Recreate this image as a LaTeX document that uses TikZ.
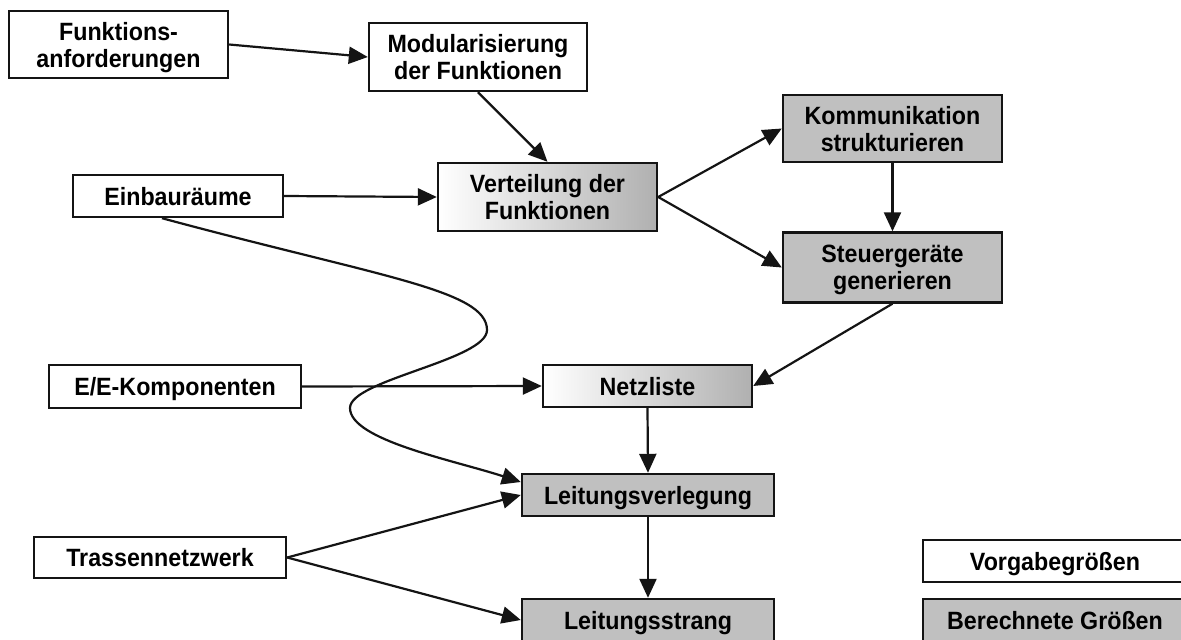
\documentclass[tikz,border=0pt]{standalone}
\usepackage{fontspec}
\setmainfont{Liberation Sans}
\newfontfamily\boxfont[FakeStretch=0.93]{Liberation Sans}
\usetikzlibrary{arrows.meta}
\definecolor{boxgray}{RGB}{192,192,192}
\definecolor{gradgray}{RGB}{176,176,176}
\definecolor{edgecol}{RGB}{20,20,20}
\begin{document}
\begin{tikzpicture}[x=1pt,y=-1pt,
  box/.style={draw=edgecol, line width=2.4pt, fill=white, inner sep=0pt, align=center,
    text depth=0pt, font=\boxfont\fontsize{25}{27}\selectfont\bfseries},
  calcbox/.style={box, fill=boxgray},
  gradbox/.style={box, left color=white, right color=gradgray},
  arr/.style={draw=edgecol, line width=2.2pt, -{Triangle[length=19pt,width=17pt]}}
  ]
\fill[white] (0,0) rectangle (1181,640);
\useasboundingbox (0,0) rectangle (1181,640);

\node[box, minimum width=219pt, minimum height=67pt] (fa) at (118.5,44.5) {Funktions-\\anforderungen};
\node[box, minimum width=218pt, minimum height=68pt] (mod) at (478,57) {Modularisierung\\der Funktionen};
\node[gradbox, minimum width=219pt, minimum height=68pt] (vert) at (547.5,197) {Verteilung der\\Funktionen};
\node[box, minimum width=210pt, minimum height=42pt] (ein) at (178,196) {Einbauräume};
\node[calcbox, minimum width=219pt, minimum height=67pt] (kom) at (892.5,128.5) {Kommunikation\\strukturieren};
\node[calcbox, minimum width=219pt, minimum height=70pt] (steu) at (892.5,267.5) {Steuergeräte\\generieren};
\node[box, minimum width=252pt, minimum height=43pt] (ee) at (175,386.5) {E/E-Komponenten};
\node[gradbox, minimum width=209pt, minimum height=42pt] (netz) at (647.5,386) {Netzliste};
\node[calcbox, minimum width=252pt, minimum height=42pt] (lv) at (648,495) {Leitungsverlegung};
\node[box, minimum width=252pt, minimum height=41pt] (trs) at (160,557.5) {Trassennetzwerk};
\node[calcbox, minimum width=252pt, minimum height=42pt] (ls) at (648,620) {Leitungsstrang};
\node[box, minimum width=264pt, minimum height=42pt] (vg) at (1055,561) {Vorgabegrößen};
\node[calcbox, minimum width=264pt, minimum height=42pt] (bg) at (1055,620) {Berechnete Größen};

\draw[arr] (fa.east) -- (mod.west);
\draw[arr] (mod.south) -- (vert.north);
\draw[arr] (ein.east) -- (vert.west);
\draw[arr] (vert.east) -- (kom.west);
\draw[arr] (vert.east) -- (steu.west);
\draw[arr] (kom.south) -- (steu.north);
\draw[arr] (steu.south) -- (netz.east);
\draw[arr] (ee.east) -- (netz.west);
\draw[arr] (netz.south) -- (lv.north);
\draw[arr] (lv.south) -- (ls.north);
\draw[arr] (trs.east) -- (lv.west);
\draw[arr] (trs.east) -- (ls.west);
\draw[arr] ([xshift=-16pt]ein.south) .. controls (380,277) and (487,290) .. (487,330)
  .. controls (487,360) and (350,380) .. (350,408)
  .. controls (350,440) and (453,460) .. ([yshift=13pt]lv.west);
\end{tikzpicture}
\end{document}
